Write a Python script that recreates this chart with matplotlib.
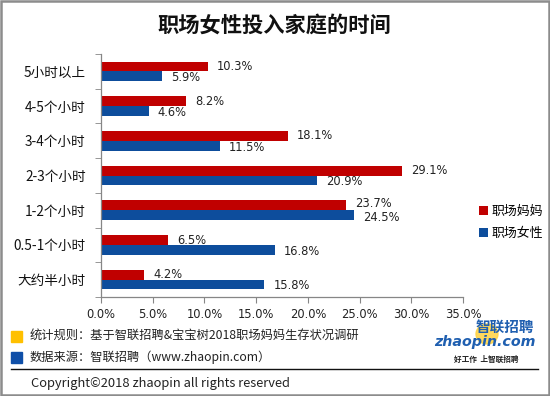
import matplotlib
matplotlib.use("Agg")
import matplotlib.pyplot as plt
import matplotlib.patches as mpatches
import numpy as np

plt.rcParams['font.family'] = ['Noto Sans CJK SC', 'DejaVu Sans']

categories = ["5小时以上", "4-5个小时", "3-4个小时", "2-3个小时",
              "1-2个小时", "0.5-1个小时", "大约半小时"]
moms = [10.3, 8.2, 18.1, 29.1, 23.7, 6.5, 4.2]      # 职场妈妈
women = [5.9, 4.6, 11.5, 20.9, 24.5, 16.8, 15.8]    # 职场女性
xticks = [0, 5, 10, 15, 20, 25, 30, 35]

color_red = "#C00000"
color_blue = "#0D4D9C"
color_axis = "#868686"
W, H = 550, 396


def fx(px):
    return px / W


def fy(py):
    return 1 - py / H


fig = plt.figure(figsize=(5.5, 3.96), dpi=100, facecolor="white")

# outer frame
fig.patches.append(mpatches.Rectangle((0.002, 0.003), 0.996, 0.994, transform=fig.transFigure,
                                      fill=False, edgecolor="#8c8c8c", linewidth=1.8))

ax = fig.add_axes([fx(101), fy(297), fx(463) - fx(101), fy(54) - fy(297)])
y = np.arange(len(categories))
h = 0.28
ax.barh(y - h / 2, moms, height=h, color=color_red, label="职场妈妈")
ax.barh(y + h / 2, women, height=h, color=color_blue, label="职场女性")

for i in range(len(categories)):
    # spread the two labels apart a little when the bars end close together
    close = abs(moms[i] - women[i]) < 3
    ax.annotate(f"{moms[i]:.1f}%", (moms[i], y[i] - h / 2), xytext=(6.5, 1.5 if close else 0),
                textcoords="offset points", va="center", ha="left",
                fontsize=8.3, color="#222222", family="DejaVu Sans")
    ax.annotate(f"{women[i]:.1f}%", (women[i], y[i] + h / 2), xytext=(6.5, -2 if close else -1),
                textcoords="offset points", va="center", ha="left",
                fontsize=8.3, color="#222222", family="DejaVu Sans")

ax.set_ylim(len(categories) - 0.5, -0.5)
ax.set_xlim(0, 35)
ax.set_yticks(y)
ax.set_yticklabels(categories, fontsize=9.8, color="#111111")
ax.set_yticks(np.arange(-0.5, len(categories)), minor=True)
ax.tick_params(axis="y", which="major", length=0, pad=11)
ax.tick_params(axis="y", which="minor", length=4, color=color_axis)
ax.set_xticks(xticks)
ax.set_xticklabels([f"{v:.1f}%" for v in xticks], fontsize=8.3, color="#222222",
                   family="DejaVu Sans")
ax.tick_params(axis="x", length=4, color=color_axis, pad=4)
for s in ["top", "right"]:
    ax.spines[s].set_visible(False)
for s in ["left", "bottom"]:
    ax.spines[s].set_color(color_axis)
    ax.spines[s].set_linewidth(0.9)

# legend
ax.legend(loc="upper left", bbox_to_anchor=(fx(467), fy(193)), bbox_transform=fig.transFigure,
          frameon=False, fontsize=9.3, handlelength=0.7, handleheight=0.7,
          handletextpad=0.3, labelspacing=0.75)

# title
fig.text(fx(274), fy(25), "职场女性投入家庭的时间", ha="center", va="center",
         fontsize=15.3, fontweight="bold", color="#111111")

# footer
fig.patches.append(mpatches.Rectangle((fx(10.5), fy(342)), fx(11), 11 / H,
                                      transform=fig.transFigure, color="#FFC000"))
fig.patches.append(mpatches.Rectangle((fx(10.5), fy(363)), fx(11), 11 / H,
                                      transform=fig.transFigure, color="#0F4FA8"))
fig.text(fx(30), fy(335), "统计规则：基于智联招聘&宝宝树2018职场妈妈生存状况调研",
         ha="left", va="center", fontsize=8.8, color="#222222")
fig.text(fx(30), fy(357), "数据来源：智联招聘（www.zhaopin.com）",
         ha="left", va="center", fontsize=8.8, color="#222222")
fig.add_artist(plt.Line2D([fx(10.5), fx(538)], [fy(369), fy(369)], transform=fig.transFigure,
                          color="#111111", linewidth=1.0))
fig.text(fx(31), fy(383), "Copyright©2018 zhaopin all rights reserved",
         ha="left", va="center", fontsize=9.3, color="#222222")

# logo
fig.patches.append(mpatches.Ellipse((fx(487), fy(334)), fx(22), 20 / H,
                                    transform=fig.transFigure, color="#FFD23F", alpha=0.85))
fig.text(fx(534), fy(327), "智联招聘", ha="right", va="center", fontsize=10.5,
         fontweight="bold", style="italic", color="#1F5FB0")
fig.text(fx(485), fy(342), "zhaopin.com", ha="center", va="center", fontsize=10.3,
         fontweight="bold", style="italic", color="#1F5FB0", family="DejaVu Sans")
fig.text(fx(486), fy(359), "好工作  上智联招聘", ha="center", va="center", fontsize=5.5,
         fontweight="bold", style="italic", color="#222222")

fig.savefig("out.png", dpi=100, facecolor="white")
